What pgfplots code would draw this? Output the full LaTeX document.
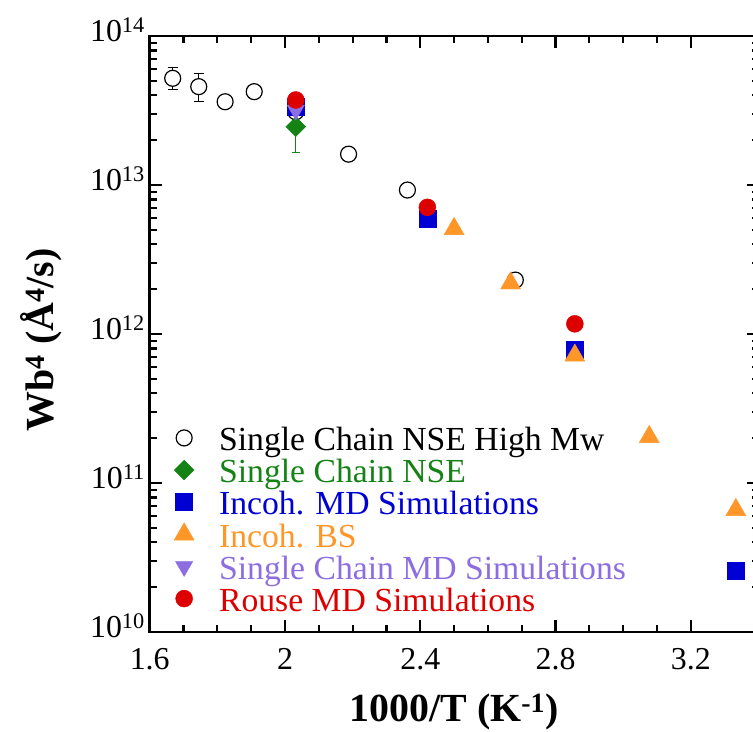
\documentclass[border=0pt]{standalone}
\usepackage{fontspec}
\setmainfont{Liberation Serif}
\usepackage{pgfplots}
\pgfplotsset{compat=1.18}
\definecolor{cgreen}{RGB}{20,130,20}
\definecolor{cblue}{RGB}{0,0,210}
\definecolor{corange}{RGB}{255,150,40}
\definecolor{cpurple}{RGB}{140,110,225}
\definecolor{cred}{RGB}{220,0,0}
\newcommand\lgs{\rule[-0.2em]{0pt}{1em}}
\begin{document}
\begin{tikzpicture}
\begin{axis}[
  scale only axis, width=608.8bp, height=596bp,
  xmin=1.6, xmax=3.4, ymode=log, ymin=1e10, ymax=1e14,
  axis line style={line width=2.5bp},
  tick style={line width=2.2bp, black},
  major tick length=12bp, minor tick length=7bp,
  xtick={1.6,2,2.4,2.8,3.2}, xticklabels={1.6,2,2.4,2.8,3.2},
  minor x tick num=3,
  ytick={1e10,1e11,1e12,1e13,1e14},
  yticklabels={10\textsuperscript{10},10\textsuperscript{11},10\textsuperscript{12},10\textsuperscript{13},10\textsuperscript{14}},
  minor ytick={2e10,3e10,4e10,5e10,6e10,7e10,8e10,9e10,2e11,3e11,4e11,5e11,6e11,7e11,8e11,9e11,2e12,3e12,4e12,5e12,6e12,7e12,8e12,9e12,2e13,3e13,4e13,5e13,6e13,7e13,8e13,9e13},
  tick label style={font=\fontsize{32}{36}\selectfont},
  xticklabel style={anchor=base, inner sep=0pt, yshift=-38bp},
  yticklabel style={anchor=base east, inner sep=0pt, xshift=-4.7bp, yshift=-5.5bp},
  label style={font=\fontsize{40}{44}\selectfont\bfseries},
  xlabel={1000/T (K\textsuperscript{-1})},
  ylabel={Wb\textsuperscript{4} (Å\textsuperscript{4}/s)},
  xlabel style={at={(axis description cs:0.5,-0.151)}, anchor=base, inner sep=0pt},
  ylabel style={at={(axis description cs:-0.1588,0.49)}, rotate=0, anchor=base, inner sep=0pt},
  legend cell align=left,
  legend style={at={(axis description cs:0.0399,0.3498)}, anchor=north west, draw=none, fill=none,
    font=\fontsize{33.8}{36}\selectfont, inner sep=0pt, row sep=3.7bp, nodes={inner sep=0pt},
    /tikz/every odd column/.append style={column sep=25bp}},
]
% circles with error bars
\addplot[forget plot, only marks, mark=*, mark size=8bp,
  mark options={fill=white, draw=black, line width=1.2bp},
  error bars/.cd, y dir=both, y explicit,
  error bar style={line width=1.2bp, black},
  error mark options={rotate=90, mark size=5bp, line width=1.2bp, black}]
  coordinates {(1.668,5.2e13) += (0,0.97e13) -= (0,0.83e13)
               (1.745,4.57e13) += (0,1.05e13) -= (0,0.94e13)};
\addplot[only marks, mark=*, mark size=8bp,
  mark options={fill=white, draw=black, line width=1.2bp}]
  coordinates {(1.823,3.62e13) (1.909,4.23e13) (2.032,3.1e13) (2.188,1.61e13) (2.362,9.25e12) (2.681,2.3e12)};
\addlegendentry{\lgs Single Chain NSE High Mw}
\addplot[only marks, mark=square*, mark size=7bp,
  mark options={rotate=45, fill=cgreen, draw=cgreen},
  error bars/.cd, y dir=minus, y explicit,
  error bar style={line width=1.2bp, cgreen},
  error mark options={rotate=90, mark size=4bp, line width=1.2bp, cgreen}]
  coordinates {(2.032,2.46e13) -= (0,0.80e13)};
\addlegendentry{\textcolor{cgreen}{\lgs Single Chain NSE}}
\addplot[only marks, mark=square*, mark size=8.5bp, mark options={fill=cblue, draw=cblue}]
  coordinates {(2.032,3.35e13) (2.421,5.97e12) (2.857,7.9e11) (3.333,2.57e10)};
\addlegendentry{\textcolor{cblue}{\lgs Incoh. MD Simulations}}
\addplot[only marks, mark=triangle*, mark size=11.5bp, mark options={fill=corange, draw=corange}]
  coordinates {(2.5,5.08e12) (2.667,2.19e12) (2.857,7.18e11) (3.077,2.04e11) (3.333,6.6e10)};
\addlegendentry{\textcolor{corange}{\lgs Incoh. BS}}
\addplot[only marks, mark=triangle*, mark size=10bp, mark options={rotate=180, fill=cpurple, draw=cpurple}]
  coordinates {(2.032,3.18e13)};
\addlegendentry{\textcolor{cpurple}{\lgs Single Chain MD Simulations}}
\addplot[only marks, mark=*, mark size=8.5bp, mark options={fill=cred, draw=cred}]
  coordinates {(2.032,3.72e13) (2.421,7.08e12) (2.857,1.17e12)};
\addlegendentry{\textcolor{cred}{\lgs Rouse MD Simulations}}
\end{axis}
\pgfresetboundingbox
\useasboundingbox (-149.7bp,-100bp) rectangle (603.3bp,632bp);
\end{tikzpicture}
\end{document}
